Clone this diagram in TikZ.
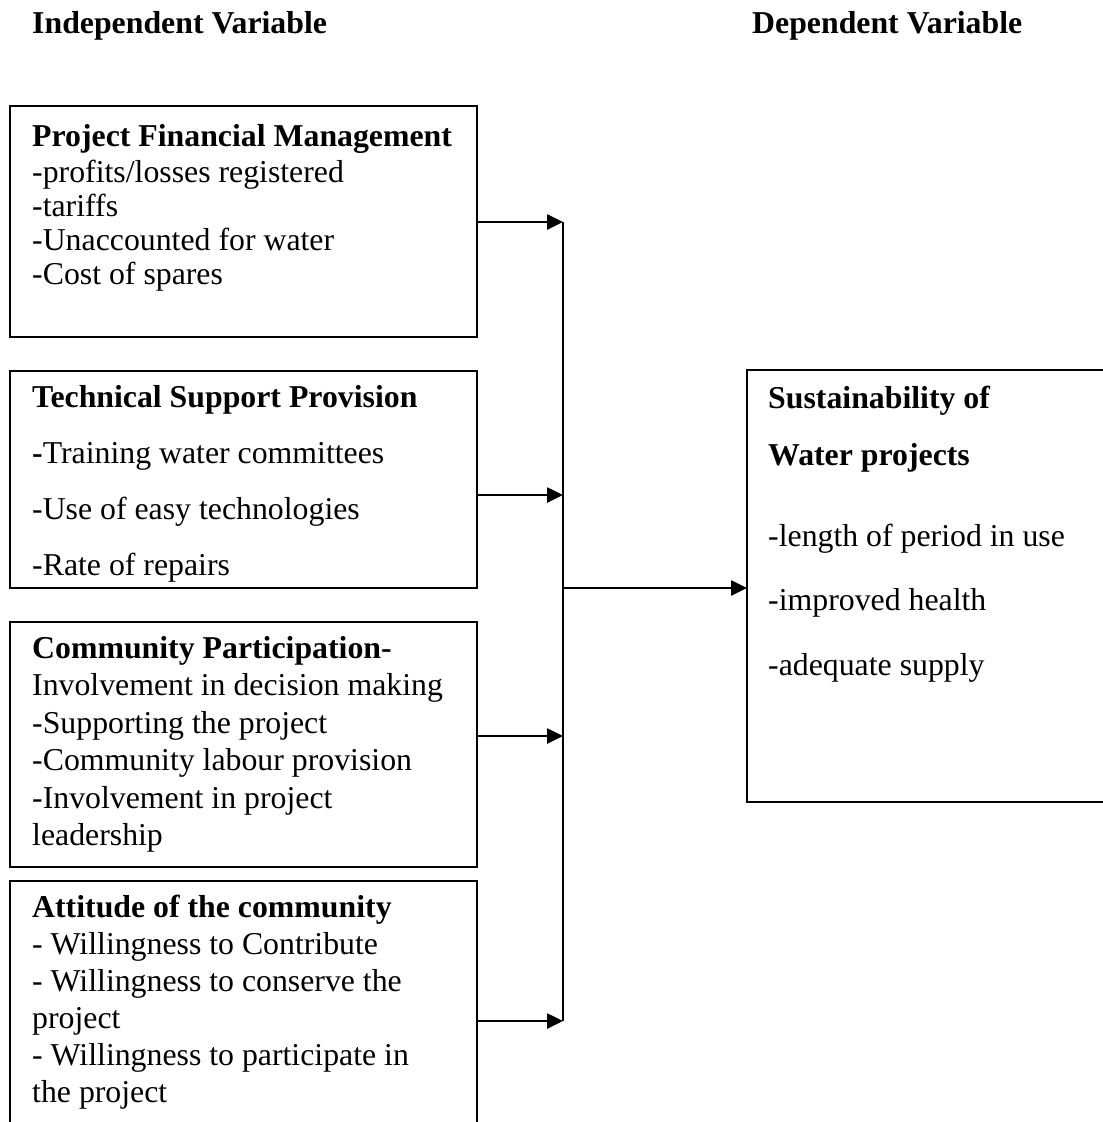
\documentclass[tikz,border=0pt]{standalone}
\usepackage{fontspec}
\setmainfont{Liberation Serif}
\usetikzlibrary{arrows.meta}
\begin{document}
\begin{tikzpicture}[x=1pt,y=-1pt,
  boxs/.style={draw,line width=1.8pt,inner sep=0pt,outer sep=0pt},
  txt/.style={anchor=west,inner sep=0pt,text height=22pt,text depth=6pt,font=\fontsize{31.8}{36}\selectfont},
  hd/.style={txt,font=\fontsize{31.8}{36}\selectfont\bfseries},
  arr/.style={line width=2.6pt,-{Triangle[length=16pt,width=15pt]}}]
\useasboundingbox (0,0) rectangle (1103,1122);
% headers
\node[hd] (hI) at (32,25) {Independent Variable};
\node[hd] (hD) at (752,25) {Dependent Variable};
% boxes
\node[boxs,minimum width=467pt,minimum height=231pt] (b1) at (243.5,221.5) {};
\node[boxs,minimum width=467pt,minimum height=217pt] (b2) at (243.5,479.5) {};
\node[boxs,minimum width=467pt,minimum height=245pt] (b3) at (243.5,744.5) {};
\node[boxs,minimum width=467pt,minimum height=269pt] (b4) at (243.5,1015.5) {};
\node[boxs,minimum width=383pt,minimum height=432pt] (b5) at (938.5,586) {};
% box 1 text
\node[hd]  (t11) at (32,138) {Project Financial Management};
\node[txt] (t12) at (32,174) {-profits/losses registered};
\node[txt] (t13) at (32,208) {-tariffs};
\node[txt] (t14) at (32,242) {-Unaccounted for water};
\node[txt] (t15) at (32,276) {-Cost of spares};
% box 2 text
\node[hd]  (t21) at (32,399) {Technical Support Provision};
\node[txt] (t22) at (32,455) {\textbf{-}Training water committees};
\node[txt] (t23) at (32,511) {-Use of easy technologies};
\node[txt] (t24) at (32,567) {-Rate of repairs};
% box 3 text
\node[hd]  (t31) at (32,650) {Community Participation-};
\node[txt] (t32) at (32,687) {Involvement in decision making};
\node[txt] (t33) at (32,725) {-Supporting the project};
\node[txt] (t34) at (32,762) {-Community labour provision};
\node[txt] (t35) at (32,800) {-Involvement in project};
\node[txt] (t36) at (32,837) {leadership};
% box 4 text
\node[hd]  (t41) at (32,909) {Attitude of the community};
\node[txt] (t42) at (32,946) {- Willingness to Contribute};
\node[txt] (t43) at (32,983) {- Willingness to conserve the};
\node[txt] (t44) at (32,1020) {project};
\node[txt] (t45) at (32,1057) {- Willingness to participate in};
\node[txt] (t46) at (32,1094) {the project};
% box 5 text
\node[hd]  (t51) at (768,400) {Sustainability of};
\node[hd]  (t52) at (768,457) {Water projects};
\node[txt] (t53) at (768,538) {-length of period in use};
\node[txt] (t54) at (768,602) {-improved health};
\node[txt] (t55) at (768,667) {-adequate supply};
% connectors
\coordinate (j1) at (563,222);
\coordinate (j2) at (563,495);
\coordinate (j3) at (563,736);
\coordinate (j4) at (563,1021);
\coordinate (jm) at (563,588);
\draw[line width=2pt] (j1) -- (j4);
\draw[arr] (b1.east |- j1) -- (j1);
\draw[arr] (b2.east |- j2) -- (j2);
\draw[arr] (b3.east |- j3) -- (j3);
\draw[arr] (b4.east |- j4) -- (j4);
\draw[arr] (jm) -- (jm -| b5.west);
\end{tikzpicture}
\end{document}
